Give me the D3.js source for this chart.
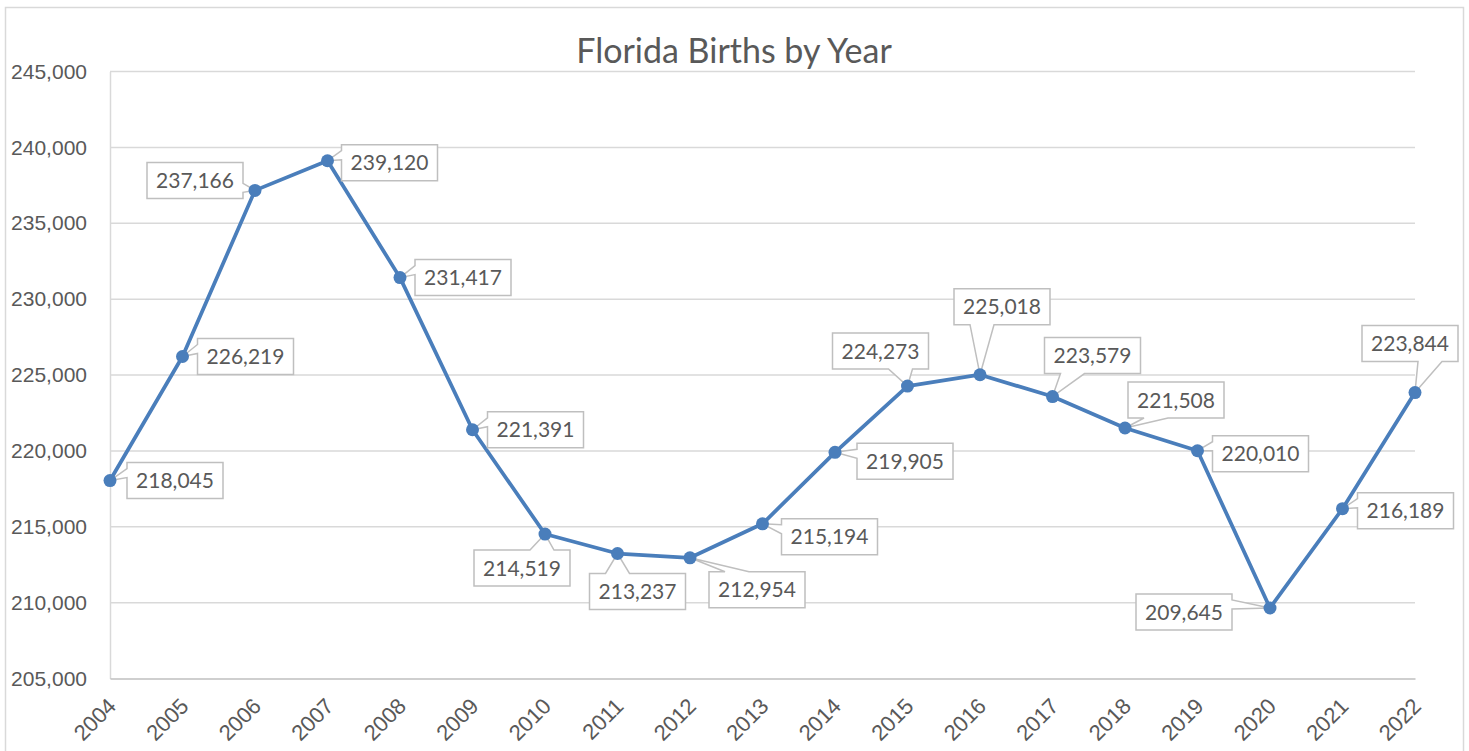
<!DOCTYPE html>
<html>
<head>
<meta charset="utf-8">
<script src="https://cdn.jsdelivr.net/npm/d3@7"></script>
<style>
  body { margin: 0; background: #fff; }
  svg { display: block; font-family: Lato, "Open Sans", sans-serif; }
</style>
</head>
<body>
<div id="chart"></div>
<script>
var years = ['2004','2005','2006','2007','2008','2009','2010','2011','2012','2013',
             '2014','2015','2016','2017','2018','2019','2020','2021','2022'];
var births = [218045, 226219, 237166, 239120, 231417, 221391, 214519, 213237, 212954, 215194,
              219905, 224273, 225018, 223579, 221508, 220010, 209645, 216189, 223844];
var yTicks = [205000, 210000, 215000, 220000, 225000, 230000, 235000, 240000, 245000];

// where each callout box sits, relative to its point
var labelOffsets = [[65,0],[63,0],[-60,-10],[62,2],[63,0],[63,0],[-23,34],[20,38],[67,32],[67,13],
                    [70,9],[-27,-35],[22,-68],[40,-41],[51,-28],[63,3],[-86,4],[63,2],[-5,-49]];

var W = 1469, H = 751;
var margin = {left: 110, right: 54, top: 71.5, bottom: 72.5};
var textColor = '#595959';

var svg = d3.select('#chart').append('svg')
  .attr('width', W).attr('height', H);

// chart area border
svg.append('rect')
  .attr('x', 5.5).attr('y', 7.5)
  .attr('width', 1458).attr('height', 760)
  .attr('fill', '#fff').attr('stroke', '#d9d9d9').attr('stroke-width', 1.5);

var x = d3.scalePoint().domain(years).range([margin.left, W - margin.right]);
var y = d3.scaleLinear().domain([205000, 245000]).range([H - margin.bottom, margin.top]);

svg.append('text')
  .attr('x', 734).attr('y', 63)
  .attr('text-anchor', 'middle')
  .attr('fill', textColor)
  .style('font-size', '34px')
  .text('Florida Births by Year');

// gridlines
svg.append('g').selectAll('line')
  .data(yTicks.slice(1))
  .enter().append('line')
  .attr('x1', margin.left).attr('x2', W - margin.right)
  .attr('y1', function(d) { return y(d); })
  .attr('y2', function(d) { return y(d); })
  .attr('stroke', '#d9d9d9').attr('stroke-width', 1.5);

// y axis
var yAxis = svg.append('g')
  .attr('transform', 'translate(' + margin.left + ',0)')
  .call(d3.axisLeft(y).tickValues(yTicks).tickFormat(d3.format(',')).tickSize(0).tickPadding(23));
yAxis.select('.domain').attr('stroke', '#d9d9d9').attr('stroke-width', 1.5);
yAxis.selectAll('text').attr('fill', textColor).style('font-size', '21px').attr('font-family', null);

// x axis
var xAxis = svg.append('g')
  .attr('transform', 'translate(0,' + (H - margin.bottom) + ')')
  .call(d3.axisBottom(x).tickSize(0).tickPadding(0));
xAxis.select('.domain').attr('stroke', '#bfbfbf').attr('stroke-width', 1.5);
xAxis.selectAll('text')
  .attr('fill', textColor).style('font-size', '22px').attr('font-family', null)
  .attr('text-anchor', 'end')
  .attr('dy', null)
  .attr('transform', 'translate(7,29) rotate(-45)');

// the line
var line = d3.line()
  .x(function(d, i) { return x(years[i]); })
  .y(function(d) { return y(d); });

svg.append('path')
  .datum(births)
  .attr('d', line)
  .attr('fill', 'none')
  .attr('stroke', '#4a7ebb')
  .attr('stroke-width', 3.75)
  .attr('stroke-linejoin', 'round');

// callout shape like an office wedge-rect callout
function calloutPath(w, h, px, py) {
  // box centred at 0,0 ; point at px,py
  var l = -w / 2, r = w / 2, t = -h / 2, b = h / 2;
  var dq = px * h / w;
  var dz = Math.abs(py) - Math.abs(dq);
  var xa = l + w * (px > 0 ? 7 : 2) / 12, xb = l + w * (px > 0 ? 10 : 5) / 12;
  var ya = t + h * (py > 0 ? 7 : 2) / 12, yb = t + h * (py > 0 ? 10 : 5) / 12;
  var p = [[l, t]];
  if (dz > 0 && py < 0) p.push([xa, t], [px, py], [xb, t]);
  p.push([r, t]);
  if (dz <= 0 && px > 0) p.push([r, ya], [px, py], [r, yb]);
  p.push([r, b]);
  if (dz > 0 && py > 0) p.push([xb, b], [px, py], [xa, b]);
  p.push([l, b]);
  if (dz <= 0 && px < 0) p.push([l, yb], [px, py], [l, ya]);
  return 'M' + p.map(function(q) { return q[0] + ',' + q[1]; }).join('L') + 'Z';
}

var fmt = d3.format(',');
var labels = svg.append('g').selectAll('g')
  .data(births)
  .enter().append('g')
  .attr('transform', function(d, i) {
    return 'translate(' + (x(years[i]) + labelOffsets[i][0]) + ',' + (y(d) + labelOffsets[i][1]) + ')';
  });

labels.append('path')
  .attr('d', function(d, i) { return calloutPath(96, 36, -labelOffsets[i][0], -labelOffsets[i][1]); })
  .attr('fill', '#fff')
  .attr('stroke', '#bfbfbf')
  .attr('stroke-width', 1.5);

labels.append('text')
  .attr('text-anchor', 'middle')
  .attr('dy', '0.36em')
  .attr('fill', textColor)
  .style('font-size', '21px')
  .text(function(d) { return fmt(d); });

// markers on top
svg.append('g').selectAll('circle')
  .data(births)
  .enter().append('circle')
  .attr('cx', function(d, i) { return x(years[i]); })
  .attr('cy', function(d) { return y(d); })
  .attr('r', 6.5)
  .attr('fill', '#4a7ebb');
</script>
</body>
</html>
